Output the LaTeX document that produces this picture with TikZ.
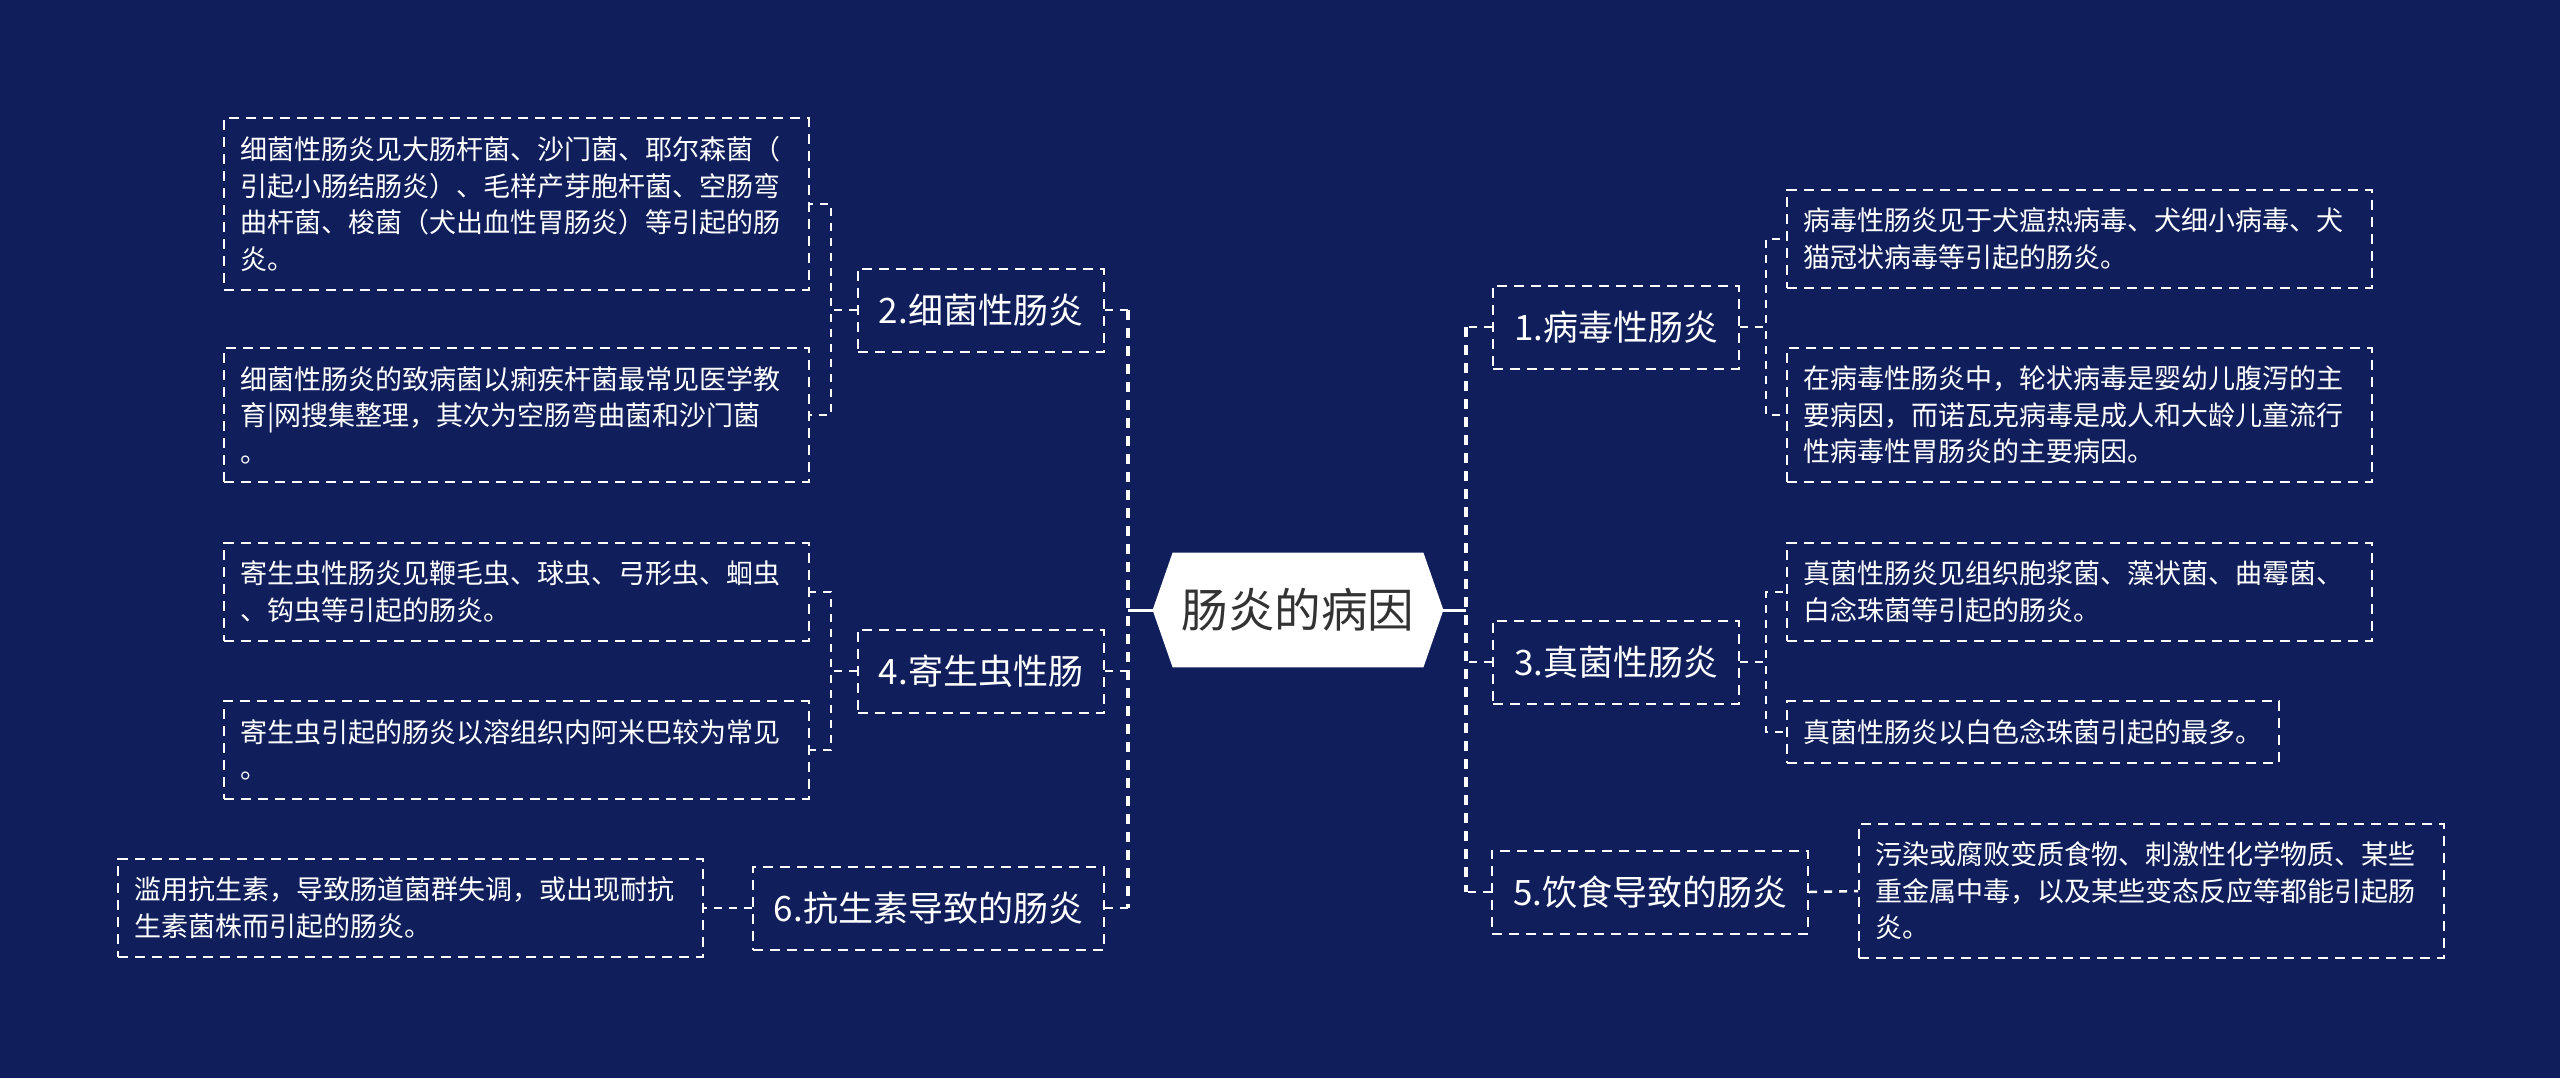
\documentclass[tikz,border=0pt]{standalone}
\usepackage{fontspec}
\setmainfont{Noto Sans CJK SC}
\usetikzlibrary{backgrounds}
\definecolor{bgnavy}{RGB}{16,31,92}
\definecolor{rootgray}{RGB}{51,51,51}
\tikzset{
  leaf/.style={draw=white, line width=1pt, dash pattern=on 5pt off 3.5pt, text=white,
    align=left, text width=276pt, inner xsep=8.25pt, inner ysep=9pt,
    font=\fontsize{13.5pt}{18.3pt}\selectfont},
  branch/.style={draw=white, line width=1pt, dash pattern=on 5pt off 3.5pt, text=white,
    inner xsep=10.5pt, minimum height=41.5pt, font=\fontsize{17.5pt}{21pt}\selectfont},
  link/.style={white, line width=1.25pt, dash pattern=on 4pt off 3.5pt},
  trunk/.style={white, line width=2pt, dash pattern=on 5pt off 4pt},
  rootlink/.style={white, line width=1.5pt},
}

\begin{document}
\begin{tikzpicture}[x=0.5pt,y=-0.5pt]
\useasboundingbox (0,0) rectangle (2560,1078);

% centre
\node[minimum width=125pt, minimum height=57pt, text=rootgray,
  font=\fontsize{23.3pt}{28pt}\selectfont] (root) at (1298,610) {肠炎的病因};
\begin{scope}[on background layer]
  \fill[bgnavy] (0,0) rectangle (2560,1078);
  \fill[white] (root.north west) -- (root.north east) -- ([xshift=10pt]root.east)
    -- (root.south east) -- (root.south west) -- ([xshift=-10pt]root.west) -- cycle;
\end{scope}
\coordinate (ltrunk) at (1128,610);
\coordinate (rtrunk) at (1466,610);

% left branches
\node[branch, anchor=east] (n2) at (1105,310) {2.细菌性肠炎};
\node[branch, anchor=east] (n4) at (1105,671) {4.寄生虫性肠};
\node[branch, anchor=east] (n6) at (1105,908) {6.抗生素导致的肠炎};

\node[leaf, anchor=east] (l2a) at (810,204) {细菌性肠炎见大肠杆菌、沙门菌、耶尔森菌（\\引起小肠结肠炎）、毛样产芽胞杆菌、空肠弯\\曲杆菌、梭菌（犬出血性胃肠炎）等引起的肠\\炎。};
\node[leaf, anchor=east] (l2b) at (810,415) {细菌性肠炎的致病菌以痢疾杆菌最常见医学教\\育|网搜集整理，其次为空肠弯曲菌和沙门菌\\。};
\node[leaf, anchor=east] (l4a) at (810,592) {寄生虫性肠炎见鞭毛虫、球虫、弓形虫、蛔虫\\、钩虫等引起的肠炎。};
\node[leaf, anchor=east] (l4b) at (810,750) {寄生虫引起的肠炎以溶组织内阿米巴较为常见\\。};
\node[leaf, anchor=east] (l6a) at (704,908) {滥用抗生素，导致肠道菌群失调，或出现耐抗\\生素菌株而引起的肠炎。};

% right branches
\node[branch, anchor=west] (n1) at (1492,327) {1.病毒性肠炎};
\node[branch, anchor=west] (n3) at (1492,662) {3.真菌性肠炎};
\node[branch, anchor=west] (n5) at (1491,892) {5.饮食导致的肠炎};

\node[leaf, anchor=west] (r1a) at (1786,239) {病毒性肠炎见于犬瘟热病毒、犬细小病毒、犬\\猫冠状病毒等引起的肠炎。};
\node[leaf, anchor=west] (r1b) at (1786,415) {在病毒性肠炎中，轮状病毒是婴幼儿腹泻的主\\要病因，而诺瓦克病毒是成人和大龄儿童流行\\性病毒性胃肠炎的主要病因。};
\node[leaf, anchor=west] (r3a) at (1786,592) {真菌性肠炎见组织胞浆菌、藻状菌、曲霉菌、\\白念珠菌等引起的肠炎。};
\node[leaf, anchor=west, text width=] (r3b) at (1786,732) {真菌性肠炎以白色念珠菌引起的最多。};
\node[leaf, anchor=west] (r5a) at (1858,891) {污染或腐败变质食物、刺激性化学物质、某些\\重金属中毒，以及某些变态反应等都能引起肠\\炎。};

% connectors
\draw[rootlink] (root.west) -- (ltrunk);
\draw[rootlink] (root.east) -- (rtrunk);
\draw[trunk] (n2.east -| ltrunk) -- (n6.east -| ltrunk);
\draw[trunk] (n1.west -| rtrunk) -- (n5.west -| rtrunk);
\foreach \n in {n2,n4,n6}
  \draw[link] (\n.east) -- (\n.east -| ltrunk);
\foreach \n in {n1,n3,n5}
  \draw[link] (\n.west) -- (\n.west -| rtrunk);

\draw[link] (n2.west) -- ++(-26,0) |- (l2a.east);
\draw[link] (n2.west) -- ++(-26,0) |- (l2b.east);
\draw[link] (n4.west) -- ++(-26,0) |- (l4a.east);
\draw[link] (n4.west) -- ++(-26,0) |- (l4b.east);
\draw[link] (n6.west) -- (l6a.east);
\draw[link] (n1.east) -- ++(26,0) |- (r1a.west);
\draw[link] (n1.east) -- ++(26,0) |- (r1b.west);
\draw[link] (n3.east) -- ++(26,0) |- (r3a.west);
\draw[link] (n3.east) -- ++(26,0) |- (r3b.west);
\draw[link] (n5.east) -- (r5a.west);
\end{tikzpicture}
\end{document}
